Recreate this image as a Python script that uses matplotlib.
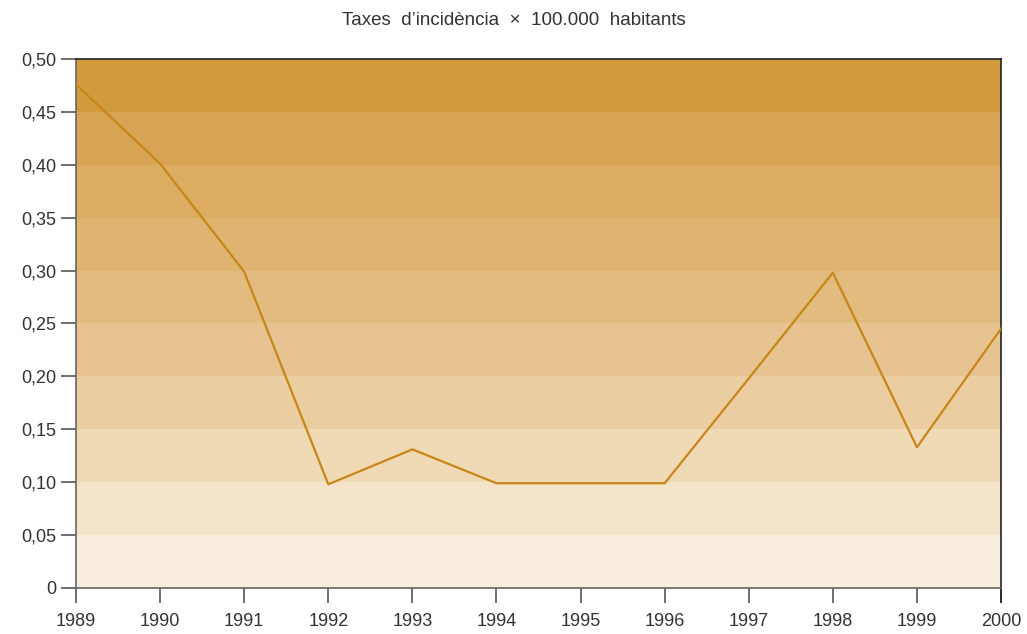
import matplotlib.pyplot as plt

plt.rcParams['font.family'] = ['Liberation Sans', 'DejaVu Sans']

years = [1989, 1990, 1991, 1992, 1993, 1994, 1995, 1996, 1997, 1998, 1999, 2000]
rates = [0.476, 0.401, 0.299, 0.098, 0.131, 0.099, 0.099, 0.099, 0.198, 0.298, 0.133, 0.245]

y_ticks = [0, 0.05, 0.10, 0.15, 0.20, 0.25, 0.30, 0.35, 0.40, 0.45, 0.50]
y_labels = ['0', '0,05', '0,10', '0,15', '0,20', '0,25', '0,30', '0,35', '0,40', '0,45', '0,50']

# band colours from bottom (0-0.05) to top (0.45-0.50)
band_colors = ['#f7eedf', '#f3e3c8', '#f0dab5', '#eacda0', '#e6c390',
               '#e2bc7e', '#dfb370', '#dbac62', '#d6a452', '#d19a3c']

fig = plt.figure(figsize=(10.27, 6.34), dpi=100)
ax = fig.add_axes([0.074, 0.0726, 0.9007, 0.8344])

for i, c in enumerate(band_colors):
    ax.axhspan(y_ticks[i], y_ticks[i + 1], color=c, lw=0, zorder=0)

ax.plot(years, rates, color='#c8861a', lw=1.6, zorder=3)

ax.set_xlim(years[0], years[-1])
ax.set_ylim(0, 0.5)
ax.set_xticks(years)
ax.set_xticklabels([str(y) for y in years])
ax.set_yticks(y_ticks)
ax.set_yticklabels(y_labels)

ax.tick_params(axis='both', length=11, width=1.2, color='#555555',
               labelsize=13, labelcolor='#333333')
ax.tick_params(axis='x', pad=7)
ax.tick_params(axis='y', pad=3)
ax.spines['left'].set_color('#666666')
ax.spines['bottom'].set_color('#666666')
ax.spines['top'].set_color('#222222')
ax.spines['right'].set_color('#222222')
for s in ax.spines.values():
    s.set_linewidth(1.2)

# the right border runs down past the axis like the year ticks
ax.plot([1.0, 1.0], [0, -0.027], transform=ax.transAxes, color='#222222',
        lw=1.2, clip_on=False)

fig.text(0.5, 0.967, 'Taxes  d\u2019incidència  \u00d7  100.000  habitants',
         ha='center', va='center', fontsize=13.5, color='#333333')

fig.savefig('out.png', dpi=100)
